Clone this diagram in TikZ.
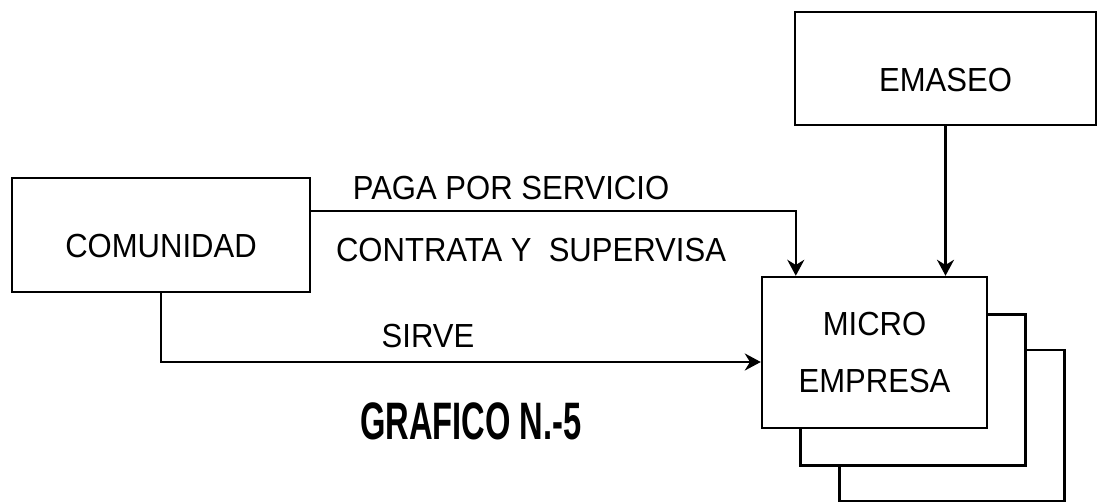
\documentclass[tikz,border=0pt]{standalone}
\usepackage{fontspec}
\setmainfont{Liberation Sans}[FakeStretch=0.93]
\newfontfamily\titulofont{Liberation Sans}[FakeStretch=0.62]
\usetikzlibrary{arrows.meta}

\begin{document}
\begin{tikzpicture}[x=0.02cm, y=-0.02cm,
					caja/.style = {shape=rectangle, draw, line width=1.4pt, fill=white,
						align=center, minimum width=4.5cm, minimum height=3.02cm,
						inner sep=0pt, font=\fontsize{19}{32}\selectfont},
					bajo/.style = {text height=0.92cm, text depth=0pt},
					flecha/.style = {draw, line width=1.4pt, -{Stealth[length=3.2mm, width=3.4mm]}},
					texto/.style = {inner sep=0pt, font=\fontsize{19}{22}\selectfont}]
	\useasboundingbox (0,0) rectangle (1104,502);
	\node[caja] (micro3) at (952,425.5) {};
	\node[caja] (micro2) at (913,390) {};
	\node[caja] (micro) at (874.5,352.5) {MICRO\\EMPRESA};
	\node[caja, bajo, minimum width=6.02cm, minimum height=2.26cm] (emaseo) at (945.5,68.5) {EMASEO};
	\node[caja, bajo, minimum width=5.96cm, minimum height=2.28cm] (comunidad) at (161,235) {COMUNIDAD};
	\node[texto] (pago) at (511,188) {PAGA POR SERVICIO};
	\node[texto] (contrata) at (531,250) {CONTRATA Y \ SUPERVISA};
	\node[texto] (sirve) at (428,336) {SIRVE};
	\node[texto, font=\titulofont\bfseries\fontsize{30}{30}\selectfont] (titulo) at (471,421) {GRAFICO N.-5};
	\draw[flecha] ([yshift=-0.68cm]comunidad.north east) -| ([xshift=0.7cm]micro.north west);
	\draw[flecha] (emaseo.south) -- (emaseo.south |- micro.north);
	\draw[flecha] (comunidad.south) |- ([yshift=-0.19cm]micro.west);
\end{tikzpicture}
\end{document}
